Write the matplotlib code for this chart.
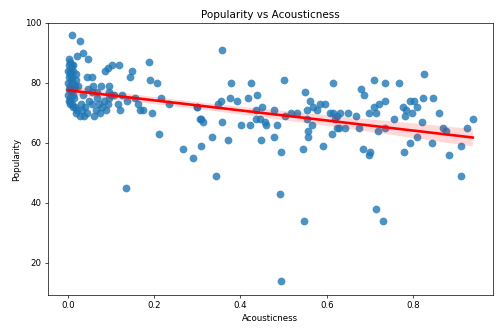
import numpy as np
import pandas as pd
import matplotlib
matplotlib.use('Agg')
import matplotlib.pyplot as plt
import seaborn as sns

# acousticness / popularity
acousticness = [
    # left stack near 0
    0.002, 0.005, 0.003, 0.008, 0.001, 0.006, 0.004, 0.010, 0.002, 0.007,
    0.000, 0.012, 0.005, 0.015, 0.003, 0.008, 0.001, 0.011, 0.006, 0.014,
    0.002, 0.009, 0.004, 0.016, 0.010, 0.013, 0.018, 0.020, 0.017,
    # lower-left cluster
    0.005, 0.012, 0.018, 0.022, 0.028, 0.030, 0.033, 0.038, 0.040, 0.045,
    0.050, 0.055, 0.060, 0.065, 0.068, 0.072, 0.075, 0.080, 0.085, 0.088,
    0.092, 0.096, 0.100, 0.068, 0.055, 0.024, 0.035, 0.046, 0.058, 0.078, 0.095,
    # upper-left extras
    0.010, 0.029, 0.036, 0.047, 0.022, 0.013, 0.045, 0.057, 0.087, 0.094,
    0.103, 0.119, 0.096, 0.149, 0.145, 0.189, 0.191, 0.207, 0.216, 0.235,
    0.138, 0.117, 0.163, 0.168, 0.196, 0.175, 0.300, 0.307, 0.212, 0.135,
    0.108, 0.125, 0.155, 0.120,
    # middle
    0.358, 0.378, 0.425, 0.501, 0.615, 0.550, 0.300, 0.349, 0.355, 0.376,
    0.393, 0.418, 0.439, 0.450, 0.436, 0.478, 0.503, 0.517, 0.531, 0.554,
    0.561, 0.568, 0.584, 0.596, 0.577, 0.554, 0.566, 0.557, 0.557, 0.612,
    0.624, 0.624, 0.615, 0.309, 0.314, 0.358, 0.334, 0.371, 0.268, 0.290,
    0.309, 0.401, 0.422, 0.436, 0.446, 0.457, 0.459, 0.484, 0.448, 0.478,
    0.494, 0.545, 0.591, 0.344, 0.492, 0.494, 0.547,
    # right
    0.710, 0.735, 0.768, 0.825, 0.679, 0.686, 0.710, 0.721, 0.735, 0.698,
    0.714, 0.777, 0.784, 0.793, 0.802, 0.809, 0.797, 0.781, 0.823, 0.846,
    0.860, 0.938, 0.756, 0.820, 0.869, 0.876, 0.925, 0.608, 0.631, 0.650,
    0.668, 0.619, 0.628, 0.642, 0.675, 0.719, 0.735, 0.684, 0.700, 0.698,
    0.779, 0.793, 0.809, 0.844, 0.883, 0.911, 0.714, 0.731, 0.910,
]
popularity = [
    88, 87, 86, 85, 84, 84, 83, 82, 82, 81,
    80, 80, 79, 78, 78, 77, 76, 76, 75, 75,
    74, 73, 73, 72, 86, 84, 83, 81, 79,
    74, 72, 70, 71, 69, 73, 71, 69, 72, 70,
    74, 73, 69, 71, 75, 73, 70, 72, 74, 71,
    73, 75, 76, 77, 77, 79, 76, 78, 79, 79, 77,
    96, 94, 90, 88, 89, 86, 82, 82, 84, 85,
    86, 86, 79, 84, 82, 87, 81, 80, 75, 73,
    74, 73, 73, 71, 70, 71, 72, 68, 63, 45,
    76, 76, 75, 71,
    91, 80, 80, 81, 80, 77, 72, 73, 74, 75,
    74, 75, 76, 72, 71, 71, 69, 70, 70, 71,
    74, 72, 73, 73, 71, 68, 66, 64, 62, 63,
    65, 69, 70, 68, 67, 67, 62, 61, 58, 55,
    59, 66, 66, 68, 68, 67, 66, 66, 61, 62,
    57, 58, 59, 49, 43, 14, 34,
    81, 80, 80, 83, 78, 76, 72, 73, 74, 70,
    70, 72, 71, 74, 74, 72, 70, 69, 75, 75,
    70, 68, 68, 67, 65, 64, 65, 70, 70, 70,
    69, 68, 65, 65, 65, 64, 65, 58, 57, 56,
    57, 60, 62, 60, 56, 59, 38, 34, 49,
]

df = pd.DataFrame({'Acousticness': acousticness, 'Popularity': popularity})

fig, ax = plt.subplots(figsize=(8, 5.328), dpi=62.5)
fig.subplots_adjust(left=0.095, right=0.986, top=0.931, bottom=0.114)

sns.regplot(data=df, x='Acousticness', y='Popularity', ax=ax, seed=0,
            scatter_kws={'s': 80, 'alpha': 0.8, 'color': '#1f77b4', 'linewidths': 0},
            line_kws={'color': 'red', 'lw': 3})

ax.set_xlim(-0.047, 0.985)
ax.set_ylim(9.3, 100)
ax.set_yticks([20, 40, 60, 80, 100])
ax.set_xticks([0.0, 0.2, 0.4, 0.6, 0.8])
ax.set_title('Popularity vs Acousticness')

fig.savefig('out.png', dpi=62.5)
